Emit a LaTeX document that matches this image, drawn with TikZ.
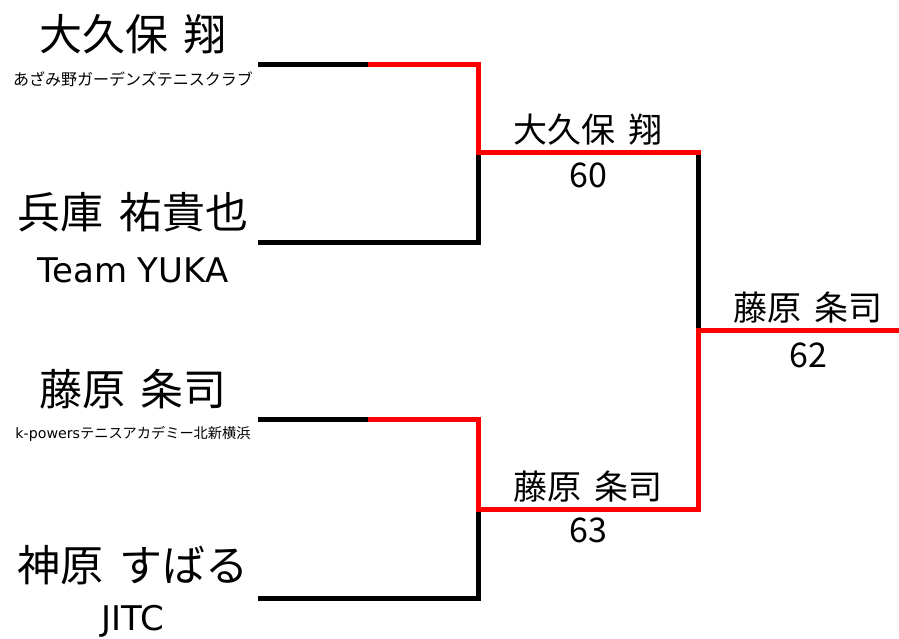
\documentclass[tikz,border=0pt]{standalone}
\usepackage{fontspec}
\setmainfont{DejaVu Sans}
\newfontfamily\jp[WordSpace=1.65]{Noto Sans CJK JP}
\newfontfamily\lat{DejaVu Sans}
\begin{document}
\begin{tikzpicture}[x=1pt,y=-1pt,
  wire/.style={line width=5pt, line join=miter, black},
  win/.style={line width=5pt, line join=miter, red},
  bigname/.style={inner sep=0pt, font=\jp\fontsize{43}{50}\selectfont},
  club/.style={inner sep=0pt, font=\jp\fontsize{16}{19}\selectfont},
  team/.style={inner sep=0pt, anchor=base, font=\lat\fontsize{34}{40}\selectfont},
  rname/.style={inner sep=0pt, font=\jp\fontsize{34}{40}\selectfont},
  score/.style={inner sep=0pt, anchor=base, font=\jp\fontsize{34}{40}\selectfont}]
\useasboundingbox (0,0) rectangle (899,638);

% bracket points
\coordinate (a1) at (258,64);
\coordinate (a1m) at (368,64);
\coordinate (a1c) at (478,64);
\coordinate (m1) at (478,152);
\coordinate (m1r) at (698,152);
\coordinate (b1) at (258,242);
\coordinate (b1c) at (478,242);
\coordinate (a2) at (258,419);
\coordinate (a2m) at (368,419);
\coordinate (a2c) at (478,419);
\coordinate (m2) at (478,509);
\coordinate (m2r) at (698,509);
\coordinate (b2) at (258,598);
\coordinate (b2c) at (478,598);
\coordinate (f) at (698,330);
\coordinate (fr) at (899,330);

% players
\node[bigname] (p1) at (133,34) {大久保 翔};
\node[club] (c1) at (133,79) {あざみ野ガーデンズテニスクラブ};
\node[bigname] (p2) at (133,212) {兵庫 祐貴也};
\node[team] (c2) at (133,282) {Team YUKA};
\node[bigname] (p3) at (133,389) {藤原 条司};
\node[club, font=\jp\fontsize{14.2}{17}\selectfont] (c3) at (133,434) {{\lat k-powers}テニスアカデミー北新横浜};
\node[bigname] (p4) at (133,565) {神原 すばる};
\node[team] (c4) at (133,630) {JITC};

% round results
\node[rname] (w1) at (588,130) {大久保 翔};
\node[score] (s1) at (588,187) {60};
\node[rname] (w2) at (588,487) {藤原 条司};
\node[score] (s2) at (588,542) {63};
\node[rname] (w3) at (808,307.5) {藤原 条司};
\node[score] (s3) at (808,367) {62};

% lines
\draw[wire] (a1) -- (a1m);
\draw[wire] (b1) -- (b1c) -- (m1);
\draw[wire] (m1r) -- (f);
\draw[wire] (a2) -- (a2m);
\draw[wire] (b2) -- (b2c) -- (m2);
\draw[win] (a1m) -- (a1c) -- (m1) -- ([xshift=2.5pt]m1r);
\draw[win] (a2m) -- (a2c) -- (m2) -- (m2r) -- (f) -- (fr);
\end{tikzpicture}
\end{document}
